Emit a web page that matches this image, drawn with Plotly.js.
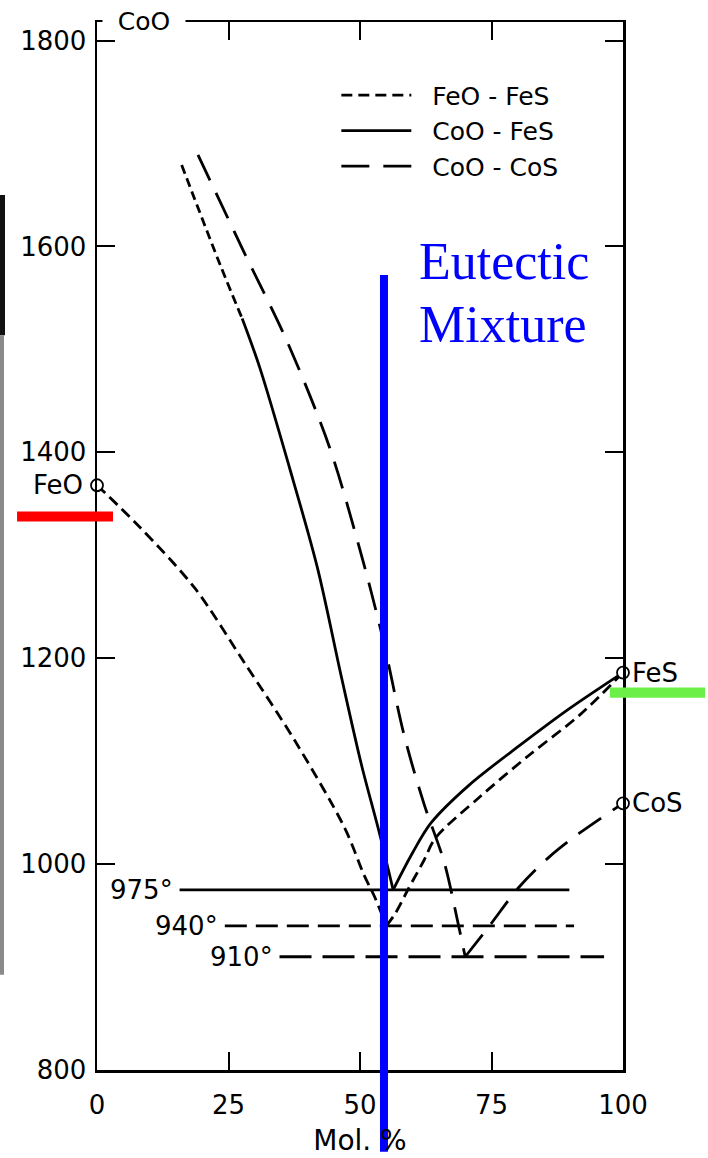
<!DOCTYPE html>
<html><head><meta charset="utf-8">
<script src="https://cdn.plot.ly/plotly-3.0.1.min.js"></script>
<style>html,body{margin:0;padding:0;background:#fff;}#chart{width:708px;height:1158px;}</style>
</head><body><div id="chart"></div>
<script>
// ---- data ----
const xTicks = [0, 25, 50, 75, 100];
const yTicks = [800, 1000, 1200, 1400, 1600, 1800];
const seriesNames = ['FeO - FeS', 'CoO - FeS', 'CoO - CoS'];

// FeO-FeS (short dashes)
const feoFesLeftX = [0, 8.2, 18.6, 28.1, 37.6, 47.1, 50.8, 52.8, 55.0];
const feoFesLeftY = [1368, 1327, 1268, 1195, 1120, 1035, 989, 968, 940];
const feoFesRightX = [55.0, 56.7, 59.3, 62.2, 64.3, 72.7, 82.2, 91.8, 100];
const feoFesRightY = [940, 952, 977, 1004, 1025, 1065, 1106, 1145, 1186];

// CoO-FeS (solid, dashed at its extrapolated top)
const cooFesTopX = [16.1, 23.5, 27.6];
const cooFesTopY = [1679, 1581, 1530];
const cooFesLeftX = [27.6, 30.9, 36.6, 41.9, 46.5, 50.3, 53.7, 56.3];
const cooFesLeftY = [1530, 1483, 1385, 1288, 1181, 1096, 1030, 975];
const cooFesRightX = [56.3, 60.0, 63.5, 70.8, 80.3, 89.8, 100];
const cooFesRightY = [975, 1011, 1040, 1077, 1115, 1151, 1186];

// CoO-CoS (long dashes)
const cooCosLeftX = [19.2, 27.9, 36.2, 44.2, 49.9, 54.3, 58.4, 62.2, 66.0, 68.5, 70.0];
const cooCosLeftY = [1689, 1595, 1507, 1405, 1307, 1220, 1125, 1058, 1002, 946, 910];
const cooCosRightX = [70.0, 74.6, 80.3, 86.0, 91.7, 100];
const cooCosRightY = [910, 940, 978, 1007, 1030, 1059];

// eutectic isotherms
const eutecticTemps = [975, 940, 910];
const eutecticLabels = ['975°', '940°', '910°'];
const eutecticStartX = [15.7, 24.3, 34.7];
const eutecticEndX = [89.8, 90.7, 96.4];

// pure compound melting points
const pureNames = ['FeO', 'FeS', 'CoS'];
const pureX = [0, 100, 100];
const pureY = [1368, 1186, 1059];
const leftComponent = 'CoO';
const xTitle = 'Mol. %';
const overlayLines = ['Eutectic', 'Mixture'];

// ---- drawing ----
const FONT = 'DejaVu Sans, Arial, sans-serif';
const LW = 2.8;
const dashShort = '11px,6px';
const dashLong = '28px,14px';
const isoDash = ['solid', '22px,9px', '32px,11px'];
const PAD = '\u00a0\u00a0';

function line(x, y, dash, name, show, smooth) {
  return {type: 'scatter', mode: 'lines', x: x, y: y, name: PAD + name, showlegend: !!show,
          legendgroup: name,
          line: {color: '#000', width: LW, dash: dash, shape: smooth ? 'spline' : 'linear', smoothing: 0.9},
          hoverinfo: 'skip'};
}

const traces = [
  line(feoFesLeftX, feoFesLeftY, dashShort, seriesNames[0], true, true),
  line(cooFesLeftX, cooFesLeftY, 'solid', seriesNames[1], true, true),
  line(cooCosLeftX, cooCosLeftY, dashLong, seriesNames[2], true, true),
  line(feoFesRightX, feoFesRightY, dashShort, seriesNames[0], false, true),
  line(cooFesTopX, cooFesTopY, '9px,5px', seriesNames[1], false, true),
  line(cooFesRightX, cooFesRightY, 'solid', seriesNames[1], false, true),
  line(cooCosRightX, cooCosRightY, dashLong, seriesNames[2], false, true)
];
eutecticTemps.forEach((t, i) => {
  traces.push(line([eutecticStartX[i], eutecticEndX[i]], [t, t], isoDash[i], 'iso' + i, false, false));
});
traces.push({type: 'scatter', mode: 'markers', x: pureX, y: pureY, showlegend: false, cliponaxis: false,
  marker: {size: 12, color: '#fff', line: {color: '#000', width: 1.8}}, hoverinfo: 'skip'});

const annotations = [];
eutecticTemps.forEach((t, i) => {
  annotations.push({x: eutecticStartX[i], y: t, xref: 'x', yref: 'y', text: eutecticLabels[i],
    showarrow: false, xanchor: 'right', yanchor: 'middle', xshift: -5, yshift: 0,
    font: {family: FONT, size: 26, color: '#000'}});
});
pureNames.forEach((n, i) => {
  const left = pureX[i] === 0;
  annotations.push({x: pureX[i], y: pureY[i], xref: 'x', yref: 'y', text: n, showarrow: false,
    xanchor: left ? 'right' : 'left', yanchor: 'middle', xshift: left ? -12 : 7, yshift: 0,
    font: {family: FONT, size: 26, color: '#000'}});
});
annotations.push({x: 8.9, y: 1818, xref: 'x', yref: 'y', text: leftComponent, showarrow: false,
  xanchor: 'center', yanchor: 'middle', width: 80, height: 30, bgcolor: '#fff', yshift: 1,
  font: {family: FONT, size: 25, color: '#000'}});
const overlayY = [0.771, 0.711];
overlayLines.forEach((t, i) => {
  annotations.push({x: 0.609, y: overlayY[i], xref: 'paper', yref: 'paper', text: t, showarrow: false,
    xanchor: 'left', yanchor: 'middle', align: 'left',
    font: {family: 'Liberation Serif, Times New Roman, serif', size: 52, color: '#0000ff'}});
});

const shapes = [
  // scan edge strip
  {type: 'rect', xref: 'paper', yref: 'paper', x0: -0.1844, x1: -0.1749, y0: 0.701, y1: 0.835,
   fillcolor: '#111', line: {width: 0}},
  {type: 'rect', xref: 'paper', yref: 'paper', x0: -0.1844, x1: -0.1768, y0: 0.091, y1: 0.701,
   fillcolor: '#8a8a8a', line: {width: 0}},
  // red marker bar
  {type: 'rect', xref: 'paper', yref: 'paper', x0: -0.152, x1: 0.0304, y0: 0.5234, y1: 0.533,
   fillcolor: '#ff0000', line: {width: 0}, layer: 'above'},
  // green marker bar
  {type: 'rect', xref: 'paper', yref: 'paper', x0: 0.975, x1: 1.156, y0: 0.3553, y1: 0.3649,
   fillcolor: '#6cf048', line: {width: 0}, layer: 'above'},
  // blue eutectic line
  {type: 'line', xref: 'paper', yref: 'paper', x0: 0.5456, x1: 0.5456, y0: -0.078, y1: 0.7586,
   line: {color: '#0000ff', width: 8}, layer: 'above'}
];

const layout = {
  width: 708, height: 1158,
  margin: {l: 97, r: 85, t: 22, b: 88, pad: 0},
  paper_bgcolor: '#fff', plot_bgcolor: '#fff',
  showlegend: true,
  legend: {x: 0.455, y: 0.952, xanchor: 'left', yanchor: 'top', bgcolor: 'rgba(0,0,0,0)',
           font: {family: FONT, size: 25, color: '#000'}, itemwidth: 70, tracegroupgap: 0},
  xaxis: {range: [0, 100], tickvals: xTicks, ticktext: xTicks.map(String), ticks: 'inside', ticklen: 18,
          tickwidth: 2, tickcolor: '#000', showline: true, linecolor: '#000', linewidth: 2.5,
          mirror: 'ticks', showgrid: false, zeroline: false, automargin: false,
          ticklabelstandoff: 10,
          tickfont: {family: FONT, size: 26, color: '#000'},
          title: {text: xTitle, standoff: 12, font: {family: FONT, size: 28, color: '#000'}}},
  yaxis: {range: [800, 1818], tickvals: yTicks, ticktext: yTicks.map(String), ticks: 'inside', ticklen: 18,
          tickwidth: 2, tickcolor: '#000', showline: true, linecolor: '#000', linewidth: 2.5,
          mirror: 'ticks', showgrid: false, zeroline: false, automargin: false,
          ticklabelstandoff: 3,
          tickfont: {family: FONT, size: 26, color: '#000'}},
  annotations: annotations,
  shapes: shapes
};

Plotly.newPlot('chart', traces, layout, {staticPlot: true, displayModeBar: false});
</script>
</body></html>
